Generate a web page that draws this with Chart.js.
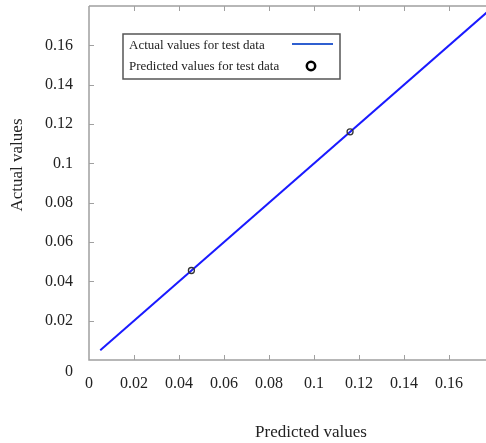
<!DOCTYPE html>
<html>
<head>
<meta charset="utf-8">
<script src="https://cdn.jsdelivr.net/npm/chart.js@4.4.1/dist/chart.umd.min.js"></script>
<style>
html,body{margin:0;padding:0;background:#fff;overflow:hidden;}
canvas{display:block;}
</style>
</head>
<body>
<canvas id="c" width="486" height="443"></canvas>
<script>
// ---- data ----
const actualX = [0.005, 0.177];
const actualY = [0.005, 0.177];
const predictedX = [0.0455, 0.116];
const predictedY = [0.0455, 0.116];
const seriesLabels = ['Actual values for test data', 'Predicted values for test data'];
const xTitle = 'Predicted values';
const yTitle = 'Actual values';
const xTickValues = [0, 0.02, 0.04, 0.06, 0.08, 0.1, 0.12, 0.14, 0.16];
const yTickValues = [0, 0.02, 0.04, 0.06, 0.08, 0.1, 0.12, 0.14, 0.16];

const FONT = '"Liberation Serif", "Times New Roman", serif';
const AXIS = '#a0a0a0';
const TEXT = '#222';

function fmt(v){ return String(+v.toFixed(2)); }

const decor = {
  id: 'decor',
  beforeDatasetsDraw(chart){
    const {ctx, chartArea:a, scales:{x, y}} = chart;
    ctx.save();
    ctx.strokeStyle = AXIS;
    ctx.lineWidth = 1.5;
    ctx.beginPath();
    ctx.moveTo(a.left, a.top); ctx.lineTo(a.right, a.top);
    ctx.moveTo(a.left, a.top); ctx.lineTo(a.left, a.bottom);
    ctx.lineTo(a.right, a.bottom);
    ctx.stroke();
    ctx.lineWidth = 1;
    ctx.beginPath();
    xTickValues.forEach(v => {
      if (v === 0) return;
      const px = Math.round(x.getPixelForValue(v)) + 0.5;
      ctx.moveTo(px, a.bottom); ctx.lineTo(px, a.bottom - 5);
      ctx.moveTo(px, a.top); ctx.lineTo(px, a.top + 5);
    });
    yTickValues.forEach(v => {
      if (v === 0) return;
      const py = Math.round(y.getPixelForValue(v)) + 0.5;
      ctx.moveTo(a.left, py); ctx.lineTo(a.left + 5, py);
    });
    ctx.stroke();
    ctx.restore();
  },
  afterDraw(chart){
    const {ctx, chartArea:a, scales:{x, y}} = chart;
    ctx.save();
    ctx.fillStyle = TEXT;
    // y-axis zero label, drawn lower than the axis
    ctx.font = '16px ' + FONT;
    ctx.textAlign = 'right';
    ctx.textBaseline = 'middle';
    ctx.fillText(fmt(yTickValues[0]), a.left - 16, y.getPixelForValue(0) + 12);
    // axis titles
    ctx.font = '17px ' + FONT;
    ctx.textAlign = 'center';
    ctx.fillText(xTitle, 311, 433);
    ctx.save();
    ctx.translate(18, 165);
    ctx.rotate(-Math.PI/2);
    ctx.fillText(yTitle, 0, 0);
    ctx.restore();
    // legend box
    const lx = 123, ly = 34, lw = 217, lh = 45;
    ctx.fillStyle = '#fff';
    ctx.fillRect(lx, ly, lw, lh);
    ctx.strokeStyle = '#555';
    ctx.lineWidth = 1.5;
    ctx.strokeRect(lx, ly, lw, lh);
    ctx.fillStyle = TEXT;
    ctx.font = '13px ' + FONT;
    ctx.textAlign = 'left';
    ctx.textBaseline = 'middle';
    ctx.fillText(chart.data.datasets[0].label, lx + 6, ly + 12);
    ctx.fillText(chart.data.datasets[1].label, lx + 6, ly + 33);
    ctx.strokeStyle = '#2f5fd0';
    ctx.lineWidth = 2;
    ctx.beginPath();
    ctx.moveTo(lx + 169, ly + 10); ctx.lineTo(lx + 210, ly + 10);
    ctx.stroke();
    ctx.strokeStyle = '#000';
    ctx.lineWidth = 2.5;
    ctx.beginPath();
    ctx.arc(lx + 188, ly + 32, 4.2, 0, Math.PI*2);
    ctx.stroke();
    ctx.restore();
  }
};

new Chart(document.getElementById('c'), {
  type: 'scatter',
  data: {
    datasets: [
      {
        label: seriesLabels[0],
        data: actualX.map((v,i)=>({x:v, y:actualY[i]})),
        showLine: true,
        borderColor: '#1a1aff',
        borderWidth: 2,
        pointRadius: 0,
        fill: false,
        order: 2
      },
      {
        label: seriesLabels[1],
        data: predictedX.map((v,i)=>({x:v, y:predictedY[i]})),
        showLine: false,
        pointRadius: 3,
        pointBorderWidth: 1.3,
        pointBorderColor: '#333',
        pointBackgroundColor: 'rgba(0,0,0,0)',
        order: 1
      }
    ]
  },
  options: {
    responsive: false,
    devicePixelRatio: 1,
    animation: false,
    layout: { autoPadding: false, padding: { top: 6, right: 0, left: 0, bottom: 0 } },
    plugins: { legend: { display: false }, tooltip: { enabled: false } },
    scales: {
      x: {
        type: 'linear',
        min: 0, max: 0.1764,
        grid: { display: false, drawTicks: false },
        border: { display: false },
        afterBuildTicks(s){ s.ticks = xTickValues.map(v=>({value:v})); },
        afterFit(s){ s.height = 83; s.paddingLeft = 0; s.paddingRight = 0; s.paddingTop = 0; s.paddingBottom = 0; },
        ticks: {
          padding: 14,
          maxRotation: 0,
          autoSkip: false,
          color: TEXT,
          font: { family: FONT, size: 16 },
          callback: v => fmt(v)
        }
      },
      y: {
        type: 'linear',
        min: 0, max: 0.18,
        grid: { display: false, drawTicks: false },
        border: { display: false },
        afterBuildTicks(s){ s.ticks = yTickValues.map(v=>({value:v})); },
        afterFit(s){ s.width = 89; s.paddingLeft = 0; s.paddingRight = 0; s.paddingTop = 0; s.paddingBottom = 0; },
        ticks: {
          padding: 16,
          autoSkip: false,
          color: TEXT,
          font: { family: FONT, size: 16 },
          callback: v => (v === 0 ? '' : fmt(v))
        }
      }
    }
  },
  plugins: [decor]
});
</script>
</body>
</html>
